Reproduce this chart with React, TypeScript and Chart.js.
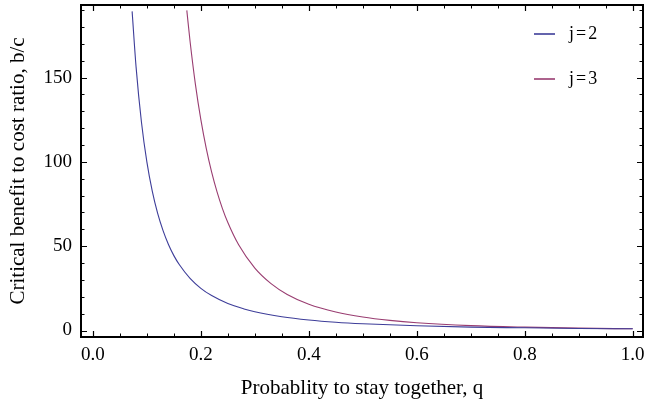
import React, { useEffect, useRef } from "react";
import { Chart, registerables } from "chart.js";

Chart.register(...registerables);

// q values and critical b/c
const qJ2 = [0.0727, 0.08, 0.09, 0.1, 0.11, 0.12, 0.13, 0.14, 0.15, 0.16, 0.18, 0.2, 0.22, 0.25, 0.28, 0.3, 0.35, 0.4, 0.45, 0.5, 0.6, 0.7, 0.8, 0.9, 1.0];
const bcJ2 = [189.2, 156.3, 123.5, 100, 82.6, 69.4, 59.2, 51.0, 44.4, 39.1, 30.9, 25, 20.7, 16, 12.8, 11.1, 8.2, 6.25, 4.9, 4, 2.8, 2.0, 1.6, 1.2, 1.0];
const qJ3 = [0.174, 0.18, 0.19, 0.2, 0.21, 0.22, 0.23, 0.24, 0.25, 0.27, 0.3, 0.33, 0.36, 0.4, 0.45, 0.5, 0.55, 0.6, 0.7, 0.8, 0.9, 1.0];
const bcJ3 = [189.8, 171.5, 145.8, 125, 108, 93.9, 82.2, 72.3, 64, 50.8, 37.0, 27.8, 21.4, 15.6, 11.0, 8, 6.0, 4.6, 2.9, 2.0, 1.4, 1.0];

const seriesLabels = ["j=2", "j=3"];
const xTicks = [0, 0.2, 0.4, 0.6, 0.8, 1.0];
const xMinorTicks = [0.05, 0.1, 0.15, 0.25, 0.3, 0.35, 0.45, 0.5, 0.55, 0.65, 0.7, 0.75, 0.85, 0.9, 0.95];
const yTicks = [0, 50, 100, 150];
const yMinorTicks = [10, 20, 30, 40, 60, 70, 80, 90, 110, 120, 130, 140, 160, 170, 180, 190];

const xTitle = "Probablity to stay together, q";
const yTitle = "Critical benefit to cost ratio, b/c";

const COLORS = ["#3d3d99", "#993d71"];
const FONT = "'Liberation Serif', 'Times New Roman', serif";

const framePlugin = {
  id: "mmaFrame",
  afterDatasetsDraw(chart: any) {
    const { ctx, chartArea: a, scales } = chart;
    const xs = scales.x;
    const ys = scales.y;
    ctx.save();
    ctx.strokeStyle = "#000";
    const tick = (vals: number[], len: number, lw: number) => {
      ctx.lineWidth = lw;
      ctx.beginPath();
      for (const v of vals) {
        const px = Math.round(xs.getPixelForValue(v)) + 0.5;
        ctx.moveTo(px, a.bottom);
        ctx.lineTo(px, a.bottom - len);
        ctx.moveTo(px, a.top);
        ctx.lineTo(px, a.top + len);
      }
      ctx.stroke();
    };
    const ytick = (vals: number[], len: number, lw: number) => {
      ctx.lineWidth = lw;
      ctx.beginPath();
      for (const v of vals) {
        const py = Math.round(ys.getPixelForValue(v)) + 0.5;
        ctx.moveTo(a.left, py);
        ctx.lineTo(a.left + len, py);
        ctx.moveTo(a.right, py);
        ctx.lineTo(a.right - len, py);
      }
      ctx.stroke();
    };
    tick(xTicks, 6, 1.2);
    tick(xMinorTicks, 3.5, 1);
    ytick(yTicks, 6, 1.2);
    ytick(yMinorTicks.filter((v) => ys.getPixelForValue(v) > a.top + 1), 3.5, 1);
    ctx.lineWidth = 2;
    ctx.strokeRect(a.left, a.top, a.right - a.left, a.bottom - a.top);

    // legend
    ctx.font = `18px ${FONT}`;
    ctx.textBaseline = "middle";
    ctx.textAlign = "left";
    (ctx as any).letterSpacing = "2px";
    chart.data.datasets.forEach((ds: any, i: number) => {
      const y = 34 + i * 45;
      ctx.strokeStyle = ds.borderColor;
      ctx.lineWidth = 1.6;
      ctx.beginPath();
      ctx.moveTo(534, y);
      ctx.lineTo(555, y);
      ctx.stroke();
      ctx.fillStyle = "#000";
      ctx.fillText(ds.label, 569, y);
    });
    ctx.restore();
  },
};

export default function App() {
  const ref = useRef<HTMLCanvasElement | null>(null);
  useEffect(() => {
    document.body.style.margin = "0";
    const c = ref.current!;
    const chart = new Chart(c, {
      type: "line",
      data: {
        datasets: [
          {
            label: seriesLabels[0],
            data: qJ2.map((q, i) => ({ x: q, y: bcJ2[i] })),
            borderColor: COLORS[0],
            borderWidth: 1.1,
            pointRadius: 0,
            cubicInterpolationMode: "monotone",
            fill: false,
          },
          {
            label: seriesLabels[1],
            data: qJ3.map((q, i) => ({ x: q, y: bcJ3[i] })),
            borderColor: COLORS[1],
            borderWidth: 1.1,
            pointRadius: 0,
            cubicInterpolationMode: "monotone",
            fill: false,
          },
        ],
      },
      options: {
        animation: false,
        responsive: false,
        maintainAspectRatio: false,
        layout: { padding: { left: 0, top: 5, right: 3, bottom: 0 } },
        plugins: { legend: { display: false }, tooltip: { enabled: false } },
        scales: {
          x: {
            type: "linear",
            min: -0.022,
            max: 1.019,
            grid: { display: false, drawTicks: false },
            border: { display: false },
            afterBuildTicks: (s: any) => {
              s.ticks = xTicks.map((v) => ({ value: v }));
            },
            afterFit: (s: any) => {
              s.height = 72;
              s.paddingLeft = 0;
              s.paddingRight = 0;
            },
            ticks: {
              padding: 7,
              color: "#000",
              font: { family: FONT, size: 19 },
              callback: (v: any) => Number(v).toFixed(1),
              maxRotation: 0,
            },
            title: {
              display: true,
              text: xTitle,
              color: "#000",
              font: { family: FONT, size: 21 },
              padding: { top: 0, bottom: 8 },
            },
          },
          y: {
            type: "linear",
            min: -3.85,
            max: 193,
            grid: { display: false, drawTicks: false },
            border: { display: false },
            afterBuildTicks: (s: any) => {
              s.ticks = yTicks.map((v) => ({ value: v }));
            },
            afterFit: (s: any) => {
              s.width = 81;
              s.paddingTop = 0;
              s.paddingBottom = 0;
            },
            ticks: {
              padding: 9,
              color: "#000",
              font: { family: FONT, size: 19 },
              callback: (v: any) => String(v),
            },
            title: {
              display: true,
              text: yTitle,
              color: "#000",
              font: { family: FONT, size: 21 },
              padding: { top: 6, bottom: 0 },
            },
          },
        },
      },
      plugins: [framePlugin],
    } as any);
    return () => chart.destroy();
  }, []);
  return (
    <div style={{ position: "absolute", left: 0, top: 0, width: 646, height: 409 }}>
      <canvas ref={ref} width={646} height={409} style={{ width: 646, height: 409 }} />
    </div>
  );
}
